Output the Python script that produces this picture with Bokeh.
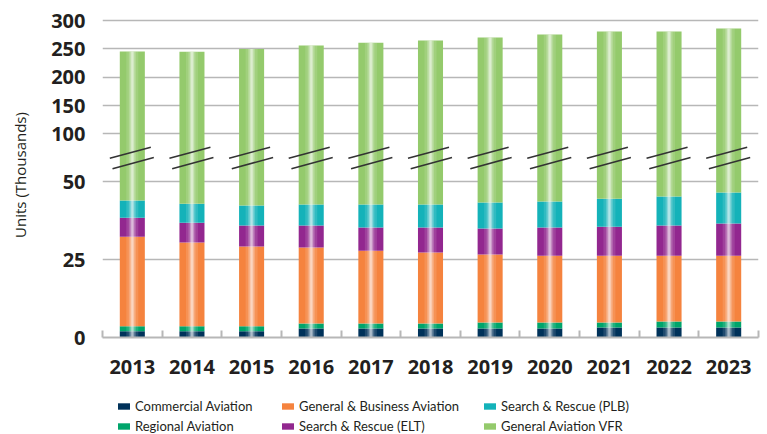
from bokeh.plotting import figure
from bokeh.layouts import column
from bokeh.models import (ColumnDataSource, Range1d, FixedTicker, Legend, LegendItem)
from bokeh.embed import file_html
from bokeh.resources import INLINE
import numpy as np

# ---------------- data (thousands of units) ----------------
years = ["2013", "2014", "2015", "2016", "2017", "2018", "2019", "2020", "2021", "2022", "2023"]
commercial = [2.0, 2.0, 2.0, 2.9, 2.9, 2.9, 2.9, 2.9, 3.2, 3.2, 3.2]
regional = [1.6, 1.6, 1.6, 1.6, 1.6, 1.6, 1.9, 1.9, 1.6, 1.9, 1.9]
gen_business = [28.8, 26.9, 25.6, 24.4, 23.4, 22.8, 21.9, 21.5, 21.5, 21.2, 21.2]
sar_elt = [6.1, 6.4, 6.8, 7.1, 7.4, 8.0, 8.3, 9.0, 9.3, 9.7, 10.3]
sar_plb = [5.5, 6.1, 6.4, 6.7, 7.4, 7.4, 8.4, 8.4, 9.0, 9.3, 10.0]
ga_vfr = [201.2, 202.0, 207.6, 213.1, 218.3, 221.9, 226.6, 231.5, 235.9, 235.2, 239.2]

lower_ticks = [0, 25, 50]
upper_ticks = [100, 150, 200, 250, 300]

series_names = ["Commercial Aviation", "Regional Aviation", "General & Business Aviation",
                "Search & Rescue (ELT)", "Search & Rescue (PLB)", "General Aviation VFR"]
colors = ["#00325a", "#00a56b", "#f5833e", "#92278f", "#14b2b9", "#94ca6c"]

# ---------------- layout constants ----------------
W, H, LEG_H = 767, 392, 42
LOW_END = 104.4             # lower scale (0..50 segment)
UP_START, UP_END = -259.3, 314.2   # upper scale (100..300 segment)
BREAK_LOW = 57.0            # where the lower part hands over to the upper part
BREAK_UP = UP_START + BREAK_LOW / LOW_END * (UP_END - UP_START)
BAR_W = 0.42
TXT = "#231f20"
GRID = "#b7b7b7"
LEG_FONT = "Lato"

def up_to_low(v):
    return (v - UP_START) / (UP_END - UP_START) * LOW_END

n = len(years)
xc = [i + 0.5 for i in range(n)]
segs = [commercial, regional, gen_business, sar_elt, sar_plb]
tops = np.cumsum(np.array(segs), axis=0)
bottoms = np.vstack([np.zeros(n), tops[:-1]])
totals = tops[-1] + np.array(ga_vfr)

p = figure(width=W, height=H, output_backend="svg", toolbar_location=None,
           x_range=Range1d(0, n), y_range=Range1d(0, LOW_END),
           min_border_left=102, min_border_right=9, min_border_top=12, min_border_bottom=55)
p.extra_y_ranges = {"upper": Range1d(UP_START, UP_END)}
p.outline_line_color = None
p.xgrid.grid_line_color = None

sources = []
for k in range(5):
    src = ColumnDataSource(dict(x=xc, top=tops[k], bottom=bottoms[k]))
    sources.append(src)
    p.vbar(x="x", width=BAR_W, top="top", bottom="bottom", source=src,
           fill_color=colors[k], line_color=None)

# VFR: lower piece and upper piece (broken axis)
src_lo = ColumnDataSource(dict(x=xc, top=[BREAK_LOW] * n, bottom=tops[-1]))
sources.append(src_lo)
p.vbar(x="x", width=BAR_W, top="top", bottom="bottom", source=src_lo,
       fill_color=colors[5], line_color=None)
src_up = ColumnDataSource(dict(x=xc, top=totals, bottom=[BREAK_UP] * n))
p.vbar(x="x", width=BAR_W, top="top", bottom="bottom", source=src_up,
       fill_color=colors[5], line_color=None, y_range_name="upper")

# glossy highlight stripe
px_x = n / 656.0
for wpx, a in [(12, 0.12), (7, 0.2), (4, 0.3), (2, 0.35)]:
    p.vbar(x=xc, width=wpx * px_x, top=BREAK_LOW, bottom=0, fill_color="white",
           fill_alpha=a, line_color=None)
    p.vbar(x=xc, width=wpx * px_x, top=totals, bottom=BREAK_UP, fill_color="white",
           fill_alpha=a, line_color=None, y_range_name="upper")

# axis-break marks (two slanted strokes per bar)
px_y = LOW_END / 325.0
y_at = lambda page_y: (337 - page_y) * px_y
x0s, y0s, x1s, y1s = [], [], [], []
for c in xc:
    for (ax, ay, bx, by) in [(-22.5, 157.7, 18.5, 146.7), (-19.8, 168.3, 21.5, 157.0)]:
        x0s.append(c + ax * px_x); y0s.append(y_at(ay))
        x1s.append(c + bx * px_x); y1s.append(y_at(by))
p.segment(x0=x0s, y0=y0s, x1=x1s, y1=y1s, line_color="#333333", line_width=1.6)

# y axis (broken)
ytick_pos = list(lower_ticks) + [up_to_low(v) for v in upper_ticks]
ytick_lab = [str(v) for v in lower_ticks] + [str(v) for v in upper_ticks]
p.yaxis.ticker = FixedTicker(ticks=ytick_pos)
p.yaxis.major_label_overrides = dict(zip(ytick_pos, ytick_lab))
p.yaxis.axis_line_color = None
p.yaxis.major_tick_line_color = None
p.yaxis.minor_tick_line_color = None
p.yaxis.major_label_standoff = 11
p.yaxis.major_label_text_font = "Open Sans"
p.yaxis.major_label_text_font_style = "bold"
p.yaxis.major_label_text_font_size = "20px"
p.yaxis.major_label_text_color = TXT
p.yaxis.axis_label = "Units (Thousands)"
p.yaxis.axis_label_text_font = "Open Sans"
p.yaxis.axis_label_text_font_style = "normal"
p.yaxis.axis_label_text_font_size = "15px"
p.yaxis.axis_label_text_color = TXT
p.yaxis.axis_label_standoff = 18
p.ygrid.grid_line_color = GRID
p.ygrid.grid_line_width = 1.5

# x axis
p.xaxis.ticker = FixedTicker(ticks=xc, minor_ticks=list(range(n + 1)))
p.xaxis.major_label_overrides = dict(zip(xc, years))
p.xaxis.axis_line_color = GRID
p.xaxis.axis_line_width = 2
p.xaxis.major_tick_line_color = None
p.xaxis.minor_tick_line_color = GRID
p.xaxis.minor_tick_line_width = 2
p.xaxis.minor_tick_in = 7
p.xaxis.minor_tick_out = 0
p.xaxis.major_label_standoff = 16
p.xaxis.major_label_text_font = "Open Sans"
p.xaxis.major_label_text_font_style = "bold"
p.xaxis.major_label_text_font_size = "20px"
p.xaxis.major_label_text_color = TXT

# ---------------- legend strip (three columns of two items) ----------------
lf = figure(width=W, height=LEG_H, output_backend="svg", toolbar_location=None,
            x_range=Range1d(0, 1), y_range=Range1d(0, 1), x_axis_type=None, y_axis_type=None,
            min_border_left=0, min_border_right=0, min_border_top=0, min_border_bottom=0)
lf.outline_line_color = None
lf.grid.grid_line_color = None
leg_r = []
for k in range(6):
    r = lf.vbar(x="x", width=BAR_W, top="top", bottom="bottom", source=sources[k],
                fill_color=colors[k], line_color=None, visible=False)
    leg_r.append(r)

# offsets are relative to the (aligned) plot frame's left edge
cols = [(0, 1, 14), (2, 3, 178), (4, 5, 380)]
for a, b, xoff in cols:
    leg = Legend(items=[LegendItem(label=series_names[a], renderers=[leg_r[a]]),
                        LegendItem(label=series_names[b], renderers=[leg_r[b]])],
                 location=(xoff, 0), orientation="vertical",
                 glyph_width=15, glyph_height=8, label_standoff=4,
                 label_height=17, spacing=3, padding=0, margin=0,
                 inactive_fill_alpha=0, click_policy="none",
                 label_text_font=LEG_FONT, label_text_font_size="13px",
                 label_text_color=TXT, background_fill_alpha=0, border_line_color=None)
    lf.add_layout(leg, "center")

open("out.html", "w").write(file_html(column(p, lf, spacing=0), INLINE))
